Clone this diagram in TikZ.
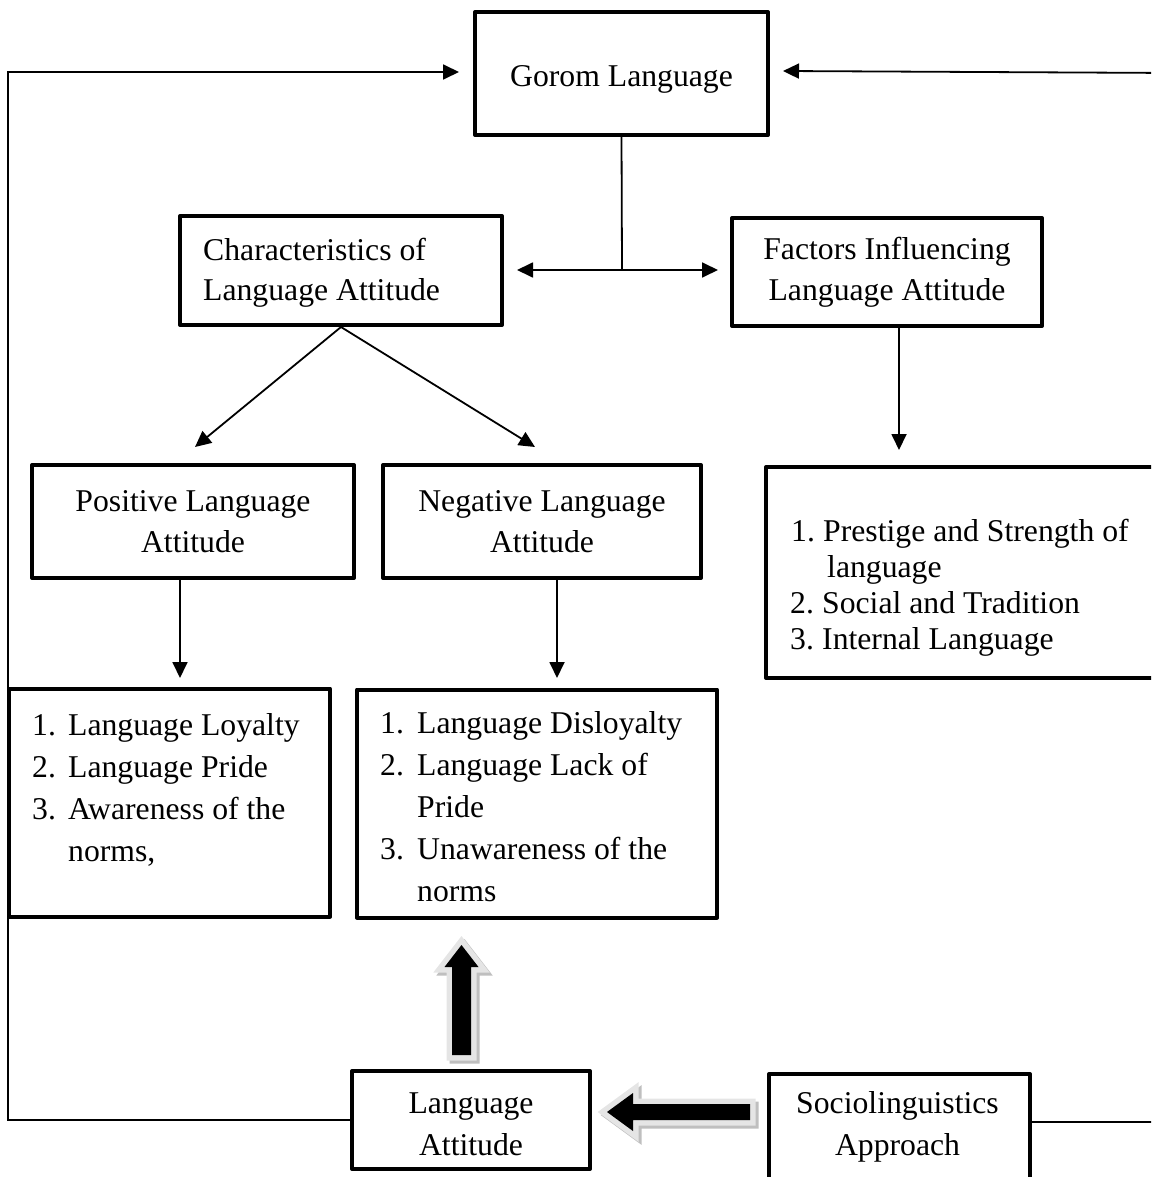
\documentclass[tikz,border=0pt]{standalone}
\usepackage{fontspec}
\setmainfont{Liberation Serif}
\usetikzlibrary{arrows.meta,calc}
\begin{document}
\begin{tikzpicture}[x=1pt,y=-1pt,
  every node/.style={font=\fontsize{31.7}{41}\selectfont, inner sep=0pt},
  box/.style={draw, line width=4pt, line join=round, fill=white},
  conn/.style={line width=1.8pt, -{Triangle[length=16pt,width=15pt]}},
  plain/.style={line width=1.8pt},
  txt/.style={anchor=base west, inner sep=0pt},
  ctxt/.style={anchor=base, inner sep=0pt},
  blockout/.style={draw=black!10, line width=11pt, line join=miter, fill=black!10},
  blockshadow/.style={draw=black!25, line width=11pt, line join=miter, fill=black!25},
  blockin/.style={fill=black}]
\useasboundingbox (0,0) rectangle (1151,1177);
\clip (0,0) rectangle (1151,1177);

% ---------- boxes ----------
\node[box, minimum width=293pt, minimum height=123pt] (gorom) at (621.5,73.5) {};
\node[ctxt] (goromt) at (621.5,87) {Gorom Language};

\node[box, minimum width=322pt, minimum height=109pt] (char) at (341,270.5) {};
\node[txt] (char1) at (203,260) {Characteristics of};
\node[txt] (char2) at (203,300) {Language Attitude};

\node[box, minimum width=310pt, minimum height=108pt, align=center] (fact) at (887,272) {Factors Influencing\\Language Attitude};

\node[box, minimum width=322pt, minimum height=113pt, align=center] (pos) at (193,521.5) {Positive Language\\Attitude};
\node[box, minimum width=318pt, minimum height=113pt, align=center] (neg) at (542,521.5) {Negative Language\\Attitude};

\node[box, minimum width=420pt, minimum height=211pt] (flist) at (976,572.5) {};
\node[txt] (f1) at (791,541) {\makebox[32pt][l]{1.}Prestige and Strength of};
\node[txt] (f1b) at (827,577) {language};
\node[txt] (f2) at (790,613) {\makebox[32pt][l]{2.}Social and Tradition};
\node[txt] (f3) at (790,649) {\makebox[32pt][l]{3.}Internal Language};

\node[box, minimum width=321pt, minimum height=228pt] (plist) at (169.5,802.5) {};
\node[txt] (p1) at (32,735) {\makebox[36pt][l]{1.}Language Loyalty};
\node[txt] (p2) at (32,777) {\makebox[36pt][l]{2.}Language Pride};
\node[txt] (p3) at (32,819) {\makebox[36pt][l]{3.}Awareness of the};
\node[txt] (p3b) at (68,861) {norms,};

\node[box, minimum width=360pt, minimum height=228pt] (nlist) at (537,803.5) {};
\node[txt] (n1) at (380,733) {\makebox[37pt][l]{1.}Language Disloyalty};
\node[txt] (n2) at (380,775) {\makebox[37pt][l]{2.}Language Lack of};
\node[txt] (n2b) at (417,817) {Pride};
\node[txt] (n3) at (380,859) {\makebox[37pt][l]{3.}Unawareness of the};
\node[txt] (n3b) at (417,901) {norms};

\node[box, minimum width=238pt, minimum height=98pt] (la) at (471,1120) {};
\node[ctxt] (la1) at (471,1113) {Language};
\node[ctxt] (la2) at (471,1155) {Attitude};

\node[box, minimum width=261pt, minimum height=140pt, anchor=north west] (soc) at (767,1072) {};
\node[ctxt] (soc1) at (897.5,1113) {Sociolinguistics};
\node[ctxt] (soc2) at (897.5,1155) {Approach};

% ---------- coordinates ----------
\coordinate (j) at (622,270);
\coordinate (jl) at (517,270);
\coordinate (jr) at (718,270);
\coordinate (pt) at (195,447);
\coordinate (nt) at (535,447);
\coordinate (ft) at (899,450);
\coordinate (pl) at (180,678);
\coordinate (nl) at (557,678);
\coordinate (lc) at (8,72);
\coordinate (gl) at (459,72);
\coordinate (rc) at (1175,73);
\coordinate (gr) at (783,71);
\coordinate (se) at ($(soc.north east)+(0,50)$);

% ---------- connectors ----------
\draw[plain] (gorom.south) -- (j);
\draw[line width=1.8pt, {Triangle[length=16pt,width=15pt]}-{Triangle[length=16pt,width=15pt]}] (jl) -- (jr);
\draw[conn] (char.south) -- (pt);
\draw[conn] (char.south) -- (nt);
\draw[conn] (fact.south -| ft) -- (ft);
\draw[conn] (pos.south -| pl) -- (pl);
\draw[conn] (neg.south -| nl) -- (nl);
\draw[conn] (la.west) -| (lc) -- (gl);
\draw[conn] (se) -| (rc) -- (gr);

% ---------- block arrows ----------
\def\uparrowpath{(461.5,945) -- (478.5,967) -- (471,967) -- (471,1055) -- (452,1055) -- (452,967) -- (444.5,967) -- cycle}
\def\leftarrowpath{(607,1112) -- (633,1093) -- (633,1104) -- (750,1104) -- (750,1120) -- (633,1120) -- (633,1131) -- cycle}
\begin{scope}[shift={(3,3)}]
  \path[blockshadow] \uparrowpath;
  \path[blockshadow] \leftarrowpath;
\end{scope}
\path[blockout] \uparrowpath;
\path[blockout] \leftarrowpath;
\path[blockin] \uparrowpath;
\path[blockin] \leftarrowpath;
\end{tikzpicture}
\end{document}
